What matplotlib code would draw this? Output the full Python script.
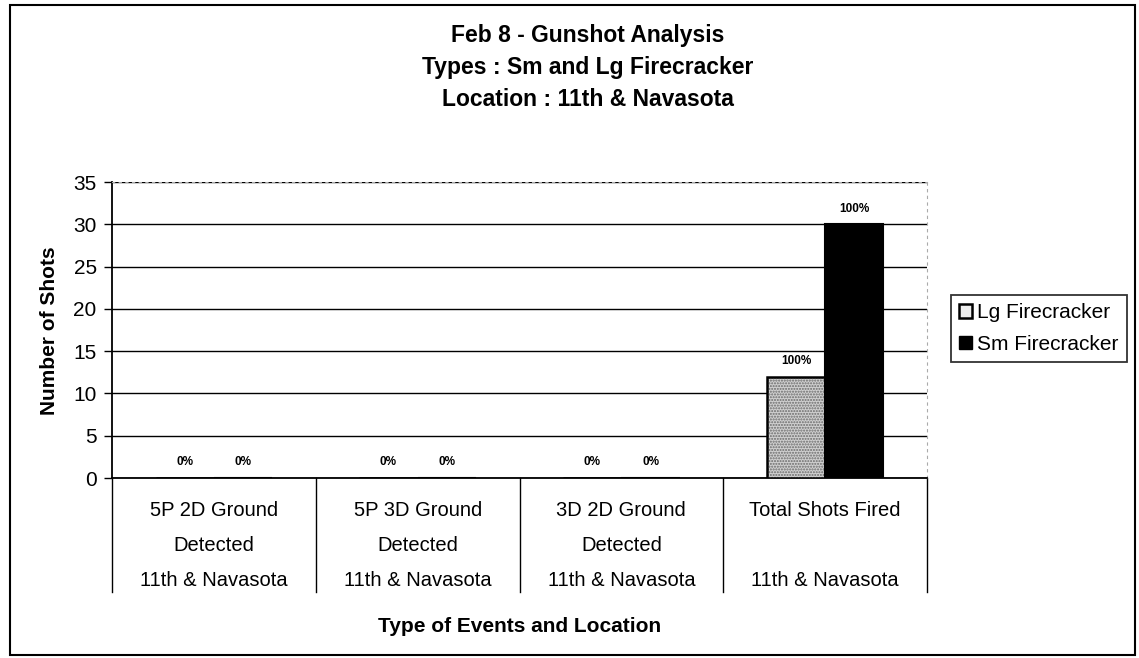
import matplotlib
matplotlib.use("Agg")
import matplotlib.pyplot as plt
import matplotlib.transforms as mtransforms
from matplotlib.patches import Rectangle, Patch
from matplotlib.lines import Line2D
import numpy as np

plt.rcParams['font.family'] = ['Liberation Sans', 'DejaVu Sans']

# data
events = ["5P 2D Ground\nDetected", "5P 3D Ground\nDetected", "3D 2D Ground\nDetected", "Total Shots Fired"]
location = "11th & Navasota"
lg_shots = [0, 0, 0, 12]
sm_shots = [0, 0, 0, 30]
lg_pct = ["0%", "0%", "0%", "100%"]
sm_pct = ["0%", "0%", "0%", "100%"]

W, H = 1139, 658
fig = plt.figure(figsize=(W / 100, H / 100), dpi=100)

# plot area in pixels: x 112..927, y 182..478
ax = fig.add_axes([112 / W, 1 - 478 / H, (927 - 112) / W, (478 - 182) / H])

x = np.arange(len(events))
bw = 0.286

# Lg bars: stippled gray fill then black outline
ax.bar(x - bw / 2, lg_shots, bw, color="#d0d0d0", hatch="......", edgecolor="#6a6a6a", linewidth=0, zorder=3)
ax.bar(x - bw / 2, lg_shots, bw, fill=False, edgecolor="black", linewidth=1.8, zorder=4)
ax.bar(x + bw / 2, sm_shots, bw, color="black", edgecolor="black", linewidth=1.5, zorder=3)

for i in range(len(events)):
    ax.annotate(lg_pct[i], (x[i] - bw / 2, lg_shots[i]), xytext=(0, 7), textcoords="offset points",
                ha="center", va="bottom", fontsize=8.5, fontweight="bold")
    ax.annotate(sm_pct[i], (x[i] + bw / 2, sm_shots[i]), xytext=(0, 7), textcoords="offset points",
                ha="center", va="bottom", fontsize=8.5, fontweight="bold")

ax.set_xlim(-0.5, len(events) - 0.5)
ax.set_ylim(0, 35)
ax.set_yticks(range(0, 36, 5))
ax.tick_params(axis="y", labelsize=15, length=6, width=1, direction="out", pad=5)
ax.set_xticks([])
ax.yaxis.grid(True, color="black", linewidth=1)
ax.set_axisbelow(True)

ax.spines["left"].set_linewidth(1.3)
ax.spines["bottom"].set_linewidth(1.3)
ax.spines["top"].set_color("#aaaaaa")
ax.spines["top"].set_linestyle((0, (2, 4)))
ax.spines["right"].set_color("#aaaaaa")
ax.spines["right"].set_linestyle((0, (2, 4)))

# multi-level category axis
trans = mtransforms.blended_transform_factory(ax.transData, fig.transFigure)
for b in np.arange(-0.5, len(events), 1.0):
    ax.add_line(Line2D([b, b], [1 - 478 / H, 1 - 592 / H], transform=trans, color="black",
                       linewidth=1, clip_on=False))
for i, ev in enumerate(events):
    for k, line in enumerate(ev.split("\n")):
        ax.text(x[i], 1 - (516 + 35 * k) / H, line, transform=trans, ha="center", va="baseline", fontsize=14.5)
    ax.text(x[i], 1 - 586 / H, location, transform=trans, ha="center", va="baseline", fontsize=14.5)

fig.text(520 / W, 1 - 627 / H, "Type of Events and Location", ha="center", va="center",
         fontsize=15, fontweight="bold")
fig.text(50 / W, 1 - 331 / H, "Number of Shots", ha="center", va="center", rotation=90,
         fontsize=15, fontweight="bold")

fig.text(588 / W, 1 - 42 / H, "Feb 8 - Gunshot Analysis", ha="center", va="baseline", fontsize=16.5, fontweight="bold")
fig.text(588 / W, 1 - 74 / H, "Types : Sm and Lg Firecracker", ha="center", va="baseline", fontsize=16.5, fontweight="bold")
fig.text(588 / W, 1 - 106 / H, "Location : 11th & Navasota", ha="center", va="baseline", fontsize=16.5, fontweight="bold")

handles = [Patch(facecolor="#eeeeee", edgecolor="black", linewidth=1.8, label="Lg Firecracker"),
           Patch(facecolor="black", edgecolor="black", label="Sm Firecracker")]
leg = fig.legend(handles=handles, loc="upper left", bbox_to_anchor=(951 / W, 1 - 295 / H),
                 fontsize=15, frameon=True, fancybox=False, edgecolor="black",
                 handlelength=0.6, handleheight=0.6, handletextpad=0.25, borderpad=0.4,
                 labelspacing=0.6, borderaxespad=0)
leg.get_frame().set_linewidth(1.3)

# outer chart border
fig.patches.append(Rectangle((10 / W, 1 - 655 / H), (1135 - 10) / W, (655 - 5) / H,
                             transform=fig.transFigure, fill=False, edgecolor="black", linewidth=1.5))

fig.savefig("out.png", dpi=100)
